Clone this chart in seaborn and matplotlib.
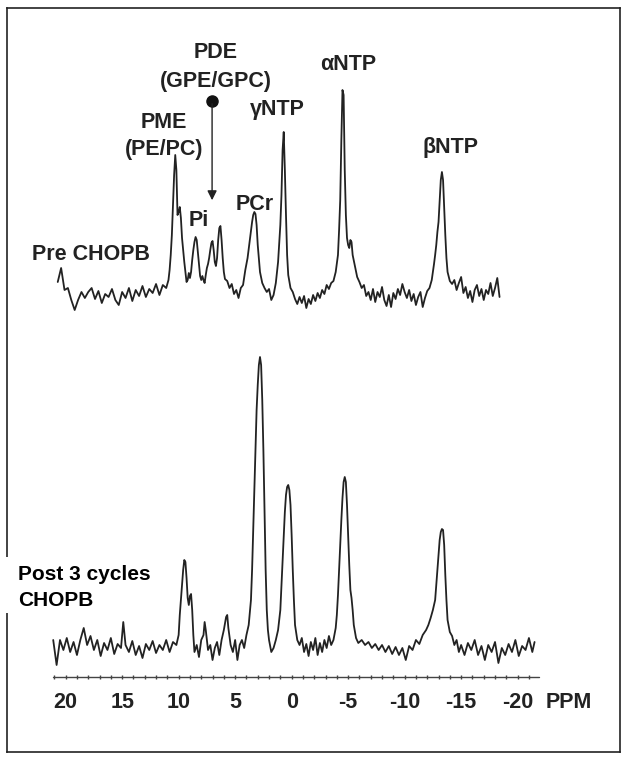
import numpy as np
import pandas as pd
import matplotlib
matplotlib.use("Agg")
import matplotlib.pyplot as plt
import seaborn as sns
from matplotlib.patches import Rectangle

## 31P spectra: chemical shift (ppm) and signal height (a.u.)
pre_ppm = [20.7, 20.4, 20.1, 19.8, 19.5, 19.2, 18.9, 18.6, 18.3, 18.0, 17.7, 17.4, 17.1, 16.8, 16.5,
           16.2, 15.9, 15.6, 15.3, 15.0, 14.7, 14.4, 14.1, 13.8, 13.5, 13.2, 12.9, 12.6, 12.3, 12.0,
           11.7, 11.4, 11.1, 10.9, 10.8, 10.7, 10.6, 10.5, 10.4, 10.3, 10.2, 10.1, 10.0, 9.9, 9.8,
           9.7, 9.6, 9.5, 9.4, 9.3, 9.2, 9.1, 9.0, 8.9, 8.8, 8.7, 8.6, 8.5, 8.4, 8.3, 8.2, 8.1, 8.0,
           7.9, 7.8, 7.7, 7.6, 7.5, 7.4, 7.3, 7.2, 7.1, 7.0, 6.9, 6.8, 6.7, 6.6, 6.5, 6.4, 6.3, 6.2,
           6.1, 6.0, 5.9, 5.7, 5.5, 5.3, 5.1, 4.9, 4.7, 4.5, 4.3, 4.1, 3.9, 3.7, 3.5, 3.4, 3.3, 3.2,
           3.1, 3.0, 2.8, 2.6, 2.4, 2.2, 2.0, 1.8, 1.6, 1.4, 1.2, 1.0, 0.9, 0.8, 0.7, 0.6, 0.5, 0.4,
           0.3, 0.1, -0.1, -0.3, -0.5, -0.7, -0.9, -1.1, -1.3, -1.5, -1.7, -1.9, -2.1, -2.3, -2.5,
           -2.7, -2.9, -3.1, -3.3, -3.5, -3.7, -3.9, -4.1, -4.2, -4.3, -4.4, -4.5, -4.6, -4.7, -4.8,
           -4.9, -5.0, -5.1, -5.2, -5.3, -5.4, -5.6, -5.8, -6.0, -6.2, -6.4, -6.6, -6.8, -7.0, -7.2,
           -7.4, -7.6, -7.8, -8.0, -8.2, -8.4, -8.6, -8.8, -9.0, -9.2, -9.4, -9.6, -9.8, -10.0,
           -10.2, -10.4, -10.6, -10.8, -11.0, -11.2, -11.4, -11.6, -11.8, -12.0, -12.2, -12.4,
           -12.6, -12.7, -12.8, -12.9, -13.0, -13.1, -13.2, -13.3, -13.4, -13.5, -13.6, -13.7,
           -13.8, -14.0, -14.2, -14.4, -14.6, -14.8, -15.0, -15.2, -15.4, -15.6, -15.8, -16.0,
           -16.2, -16.4, -16.6, -16.8, -17.0, -17.2, -17.4, -17.6, -17.8, -18.0, -18.2, -18.4]
pre_int = [11, 25, 3, 5, -7, -17, -7, 1, -5, 1, 5, -6, 2, -10, -1,
           -4, 4, -7, -12, 1, -5, 5, -8, 3, -3, 7, -4, 4, 0, 9,
           -2, 8, 5, 13, 23, 38, 58, 88, 118, 138, 123, 78, 81, 86, 75,
           55, 43, 31, 21, 11, 13, 20, 15, 21, 33, 43, 51, 56, 53, 41, 28, 17, 13,
           17, 13, 10, 18, 25, 29, 35, 43, 50, 52, 43, 31, 27, 35, 53, 65, 67, 53,
           35, 21, 14, 12, 5, 9, -1, 3, -5, 5, 8, 23, 35, 53, 71, 78, 81, 79,
           68, 48, 21, 10, 5, 1, 4, -7, -2, 10, 31, 68, 98, 143, 161, 123, 78, 38,
           18, 5, 1, -6, -11, -4, -10, -3, -15, -6, -11, -2, -8, 0, -5,
           3, -1, 8, 4, 10, 12, 21, 38, 63, 93, 153, 203, 198, 123, 78,
           55, 48, 45, 53, 51, 38, 27, 16, 11, 5, 8, -3, 1, -7, 4,
           -9, 1, -4, 6, -7, -13, -2, -14, 0, -6, 4, -2, 9, 1,
           -5, 3, -8, -1, -12, -4, 1, -14, -5, 2, 5, 13,
           29, 38, 48, 61, 71, 93, 113, 121, 113, 85, 58, 35,
           21, 12, 9, 13, 3, 10, 16, 0, 6, -5, 2, -9,
           3, 8, -3, 4, -7, 3, -1, 10, -3, 5, 15, -4]

post_ppm = [21.1, 20.8, 20.5, 20.2, 19.9, 19.6, 19.3, 19.0, 18.7, 18.4, 18.1, 17.8, 17.5, 17.2,
            16.9, 16.6, 16.3, 16.0, 15.7, 15.4, 15.1, 14.9, 14.7, 14.4, 14.1, 13.8, 13.5, 13.2,
            12.9, 12.6, 12.3, 12.0, 11.7, 11.4, 11.1, 10.8, 10.5, 10.2, 10.0, 9.9, 9.8, 9.7, 9.6,
            9.5, 9.4, 9.3, 9.2, 9.1, 9.0, 8.9, 8.8, 8.7, 8.6, 8.4, 8.2, 8.0, 7.8, 7.7, 7.6, 7.4,
            7.2, 7.0, 6.8, 6.6, 6.4, 6.2, 6.0, 5.8, 5.7, 5.6, 5.4, 5.2, 5.0, 4.8, 4.6, 4.4, 4.2,
            4.0, 3.8, 3.6, 3.5, 3.4, 3.3, 3.2, 3.1, 3.0, 2.9, 2.8, 2.7, 2.6, 2.5, 2.4, 2.3, 2.2,
            2.1, 2.0, 1.8, 1.6, 1.4, 1.2, 1.0, 0.9, 0.8, 0.7, 0.6, 0.5, 0.4, 0.3, 0.2, 0.1, 0.0,
            -0.1, -0.2, -0.3, -0.5, -0.7, -0.9, -1.1, -1.3, -1.5, -1.7, -1.9, -2.1, -2.3, -2.5,
            -2.7, -2.9, -3.1, -3.3, -3.5, -3.7, -3.9, -4.0, -4.1, -4.2, -4.3, -4.4, -4.5, -4.6,
            -4.7, -4.8, -4.9, -5.0, -5.1, -5.2, -5.3, -5.4, -5.5, -5.7, -5.9, -6.2, -6.5, -6.8,
            -7.1, -7.4, -7.7, -8.0, -8.3, -8.6, -8.9, -9.2, -9.5, -9.8, -10.1, -10.4, -10.7,
            -11.0, -11.3, -11.6, -11.9, -12.1, -12.3, -12.5, -12.7, -12.8, -12.9, -13.0, -13.1,
            -13.2, -13.3, -13.4, -13.5, -13.6, -13.7, -13.8, -14.0, -14.2, -14.4, -14.6, -14.8,
            -15.0, -15.3, -15.6, -15.9, -16.2, -16.5, -16.8, -17.1, -17.4, -17.7, -18.0, -18.3,
            -18.6, -18.9, -19.2, -19.5, -19.8, -20.1, -20.4, -20.7, -21.0, -21.3, -21.5]
post_int = [8, -17, 8, -2, 10, -4, 6, -7, 8, 20, 3, 12, -2, 8,
            -8, 5, -2, 10, -6, 4, 0, 26, 3, -4, 7, -7, 2, -10,
            4, -2, 7, -5, 3, -2, 8, -4, 6, 3, 13, 33, 48, 63, 78,
            88, 86, 70, 50, 43, 52, 54, 38, 13, -4, 3, -9, 8, 13, 26, 18, -2,
            3, -12, 0, 6, -7, 8, 18, 31, 33, 20, 3, -4, 8, -12, 3, 8, 0,
            13, 23, 48, 78, 118, 158, 198, 238, 263, 283, 291, 283, 248, 198, 138, 78, 38,
            18, 8, -4, 0, 8, 18, 38, 63, 88, 113, 136, 153, 161, 163, 158, 143, 113,
            78, 48, 23, 8, 3, 10, -4, 4, -8, 6, -2, 10, -7, 5,
            -4, 8, 0, 12, 3, 8, 20, 33, 53, 78, 103, 128, 150, 166,
            171, 166, 143, 113, 83, 58, 50, 38, 23, 10, 5, 8, 3, 6,
            0, 4, -2, 3, -4, 2, -6, 1, -7, 0, -12, 2, -2,
            8, 4, 13, 18, 23, 30, 38, 48, 63, 78, 93, 108,
            116, 119, 118, 103, 73, 48, 28, 16, 12, 3, 8, -4,
            3, -7, 5, -2, 8, -7, 2, -12, 3, -4, 6, -15,
            0, -7, 4, -4, 8, -8, 2, -2, 10, -4, 6]

ppm_ticks = [20, 15, 10, 5, 0, -5, -10, -15, -20]

pre_df = pd.DataFrame({"ppm": pre_ppm, "signal": pre_int})
post_df = pd.DataFrame({"ppm": post_ppm, "signal": post_int})

sns.set_style("white")
plt.rcParams["font.family"] = ["Liberation Sans", "DejaVu Sans"]
plt.rcParams["font.weight"] = "bold"

fig = plt.figure(figsize=(6.29, 7.59), dpi=100)
ax = fig.add_axes([7 / 629, 7 / 759, 613 / 629, 744 / 759])

## stack the two spectra, pre on top
pre_offset = 466
post_offset = 111
line_col = "#222222"
sns.lineplot(x=pre_df["ppm"], y=pre_df["signal"] + pre_offset, ax=ax, color=line_col,
             lw=1.3, sort=False, estimator=None)
sns.lineplot(x=post_df["ppm"], y=post_df["signal"] + post_offset, ax=ax, color=line_col,
             lw=1.3, sort=False, estimator=None)

## ppm scale under the spectra
axis_y = 82
ax.plot([21.1, -21.9], [axis_y, axis_y], color="#444444", lw=1.0)
small = np.arange(21, -22, -1)
ax.plot(small, [axis_y] * len(small), ls="none", marker="|", ms=3, color="#444444")
fs = 15.5
for t in ppm_ticks:
    ax.text(t, 57, str(t), ha="center", va="center", fontsize=fs, color="#222222")
ax.text(-24.5, 57, "PPM", ha="center", va="center", fontsize=fs, color="#222222")

## peak labels
lab = dict(ha="center", va="center", fontsize=fs, color="#222222")
ax.text(11.3, 636, "PME", **lab)
ax.text(11.3, 609, "(PE/PC)", **lab)
ax.text(6.7, 706, "PDE", **lab)
ax.text(6.7, 677, "(GPE/GPC)", **lab)
ax.text(-4.99, 694, "\u03b1NTP", **lab)
ax.text(1.29, 649, "\u03b3NTP", **lab)
ax.text(-14.1, 612, "\u03b2NTP", **lab)
ax.text(3.24, 555, "PCr", **lab)
ax.text(8.19, 539, "Pi", **lab)
ax.text(23.0, 505, "Pre CHOPB", ha="left", va="center", fontsize=fs, color="#222222")
ax.text(24.2, 184, "Post 3 cycles", ha="left", va="center", fontsize=fs - 0.5, color="black")
ax.text(24.2, 159, "CHOPB", ha="left", va="center", fontsize=fs - 0.5, color="black")

## PDE arrow
ax.annotate("", xy=(7.04, 556), xytext=(7.04, 658),
            arrowprops=dict(arrowstyle="-|>", color="#222222", lw=1.0, mutation_scale=14))
ax.plot([7.04], [658], marker="o", ms=8, color="#111111")

ax.set_xlim(25.19, -29.06)
ax.set_ylim(7, 751)
ax.set_xticks([])
ax.set_yticks([])
ax.set_xlabel("")
ax.set_ylabel("")
for s in ax.spines.values():
    s.set_color("#222222")
    s.set_linewidth(1.2)

## the pasted label box hides a bit of the frame on the left
fig.patches.append(Rectangle((4 / 629, 146 / 759), 10 / 629, 56 / 759,
                             transform=fig.transFigure, facecolor="white",
                             edgecolor="none", zorder=5))

fig.savefig("out.png", dpi=100)
